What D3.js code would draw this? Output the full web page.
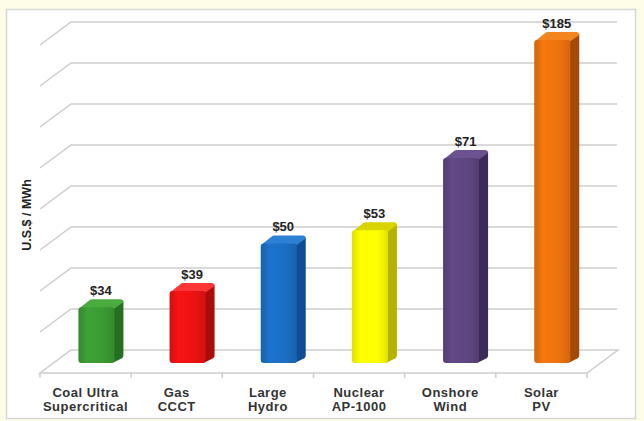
<!DOCTYPE html>
<html>
<head>
<meta charset="utf-8">
<script src="https://cdn.jsdelivr.net/npm/d3@7"></script>
<style>
  body { margin: 0; background: #fefee8; }
  text { font-family: "Liberation Sans", Arial, sans-serif; font-weight: bold; }
</style>
</head>
<body>
<svg id="chart" width="644" height="421"></svg>
<script>
// categories, two lines each
var categories = ['Coal Ultra|Supercritical', 'Gas|CCCT', 'Large|Hydro', 'Nuclear|AP-1000', 'Onshore|Wind', 'Solar|PV'];
// value labels printed over the bars
var costLabels = ['$34', '$39', '$50', '$53', '$71', '$185'];
// bar heights as drawn (axis units, 0-200, gridline every 25)
var barHeights = [34, 44, 73, 81, 125, 197];
var gridTicks = [0, 25, 50, 75, 100, 125, 150, 175, 200];
var frontColors = ['#3a9a33', '#ec1212', '#1b6ec2', '#ffff00', '#5d4580', '#ec720c'];
var sideColors  = ['#256f20', '#aa0c0c', '#0f4e92', '#b5b200', '#3c2b57', '#a44a06'];
var topColors   = ['#49ab40', '#ff3636', '#2c80d6', '#d8d400', '#6c5290', '#f2851e'];

var svg = d3.select('#chart');

// white panel
svg.append('rect')
  .attr('x', 6.5).attr('y', 9.5).attr('width', 629).attr('height', 409)
  .attr('fill', '#fff').attr('stroke', '#d6d6d6').attr('stroke-width', 1.5);

var depthX = 31, depthY = -23;   // floor depth (front -> back)
var floorFront = 373;

var x = d3.scaleBand().domain(categories).range([40, 587]).padding(0);
var y = d3.scaleLinear().domain([0, 200]).range([350, 22]);   // on back wall

var grid = svg.append('g').attr('stroke', '#cdcdcd').attr('stroke-width', 1.5).attr('fill', 'none');

// gridlines: back wall + left wall diagonal
gridTicks.forEach(function(t) {
  var yb = y(t);
  if (t === 0) return;
  grid.append('path').attr('d', 'M' + 40 + ',' + (yb - depthY) + 'L' + (40 + depthX) + ',' + yb + 'L' + 617 + ',' + yb);
});

// floor
var x0 = x.range()[0], x1 = x.range()[1];
grid.append('path').attr('d',
  'M' + x0 + ',' + floorFront + 'L' + x1 + ',' + floorFront +
  'L' + (x1 + depthX) + ',' + (floorFront + depthY) +
  'L' + (x0 + depthX) + ',' + (floorFront + depthY) + 'Z');

// category ticks
var bounds = categories.map(function(c) { return x(c); }).concat([x1]);
bounds.forEach(function(b) {
  grid.append('line').attr('x1', b).attr('x2', b).attr('y1', floorFront).attr('y2', floorFront + 5);
});

// gradients for front faces
var defs = svg.append('defs');
frontColors.forEach(function(c, i) {
  var g = defs.append('linearGradient').attr('id', 'fg' + i).attr('x1', 0).attr('x2', 1).attr('y1', 0).attr('y2', 0);
  g.append('stop').attr('offset', '0%').attr('stop-color', d3.color(c).darker(0.35));
  g.append('stop').attr('offset', '25%').attr('stop-color', d3.color(c).brighter(0.15));
  g.append('stop').attr('offset', '70%').attr('stop-color', c);
  g.append('stop').attr('offset', '100%').attr('stop-color', d3.color(c).darker(0.3));
});

// bars sit at 0.43 of the floor depth
var d = 0.43;
var bw = 36, sx = 9, sy = -7, r = 3;

var bars = svg.append('g');
categories.forEach(function(c, i) {
  var cx = x(c) + x.bandwidth() / 2 + depthX * d - sx / 2 + 2;
  var base = floorFront + depthY * d;
  var top = y(barHeights[i]) - depthY * (1 - d);
  var left = cx - bw / 2, right = cx + bw / 2;

  // side face
  bars.append('path')
    .attr('d', 'M' + (right - 1) + ',' + (top + 1) + 'L' + (right + sx) + ',' + (top + sy + 1) +
      'L' + (right + sx) + ',' + (base + sy - 1) + 'Q' + (right + sx) + ',' + (base + sy + 2) + ' ' + (right + sx - 3) + ',' + (base + sy + 3) +
      'L' + (right - 2) + ',' + base + 'Z')
    .attr('fill', sideColors[i]);
  // top face
  bars.append('path')
    .attr('d', 'M' + (left + 1) + ',' + (top + 1) + 'L' + (left + sx + 2) + ',' + (top + sy) +
      'Q' + (left + sx + 3) + ',' + (top + sy - 1) + ' ' + (left + sx + 5) + ',' + (top + sy - 1) +
      'L' + (right + sx - 3) + ',' + (top + sy - 1) + 'Q' + (right + sx) + ',' + (top + sy - 1) + ' ' + (right + sx) + ',' + (top + sy + 2) +
      'L' + (right - 1) + ',' + (top + 2) + 'Z')
    .attr('fill', topColors[i]);
  // front face
  bars.append('rect')
    .attr('x', left).attr('y', top).attr('width', bw).attr('height', base - top)
    .attr('rx', r).attr('ry', r)
    .attr('fill', 'url(#fg' + i + ')');

  // value label
  svg.append('text')
    .attr('x', cx + sx / 2).attr('y', top + sy - 5)
    .attr('text-anchor', 'middle').attr('font-size', 13).attr('fill', '#222')
    .text(costLabels[i]);
});

// category labels
var labels = svg.append('g').attr('font-size', 13).attr('fill', '#333')
  .attr('text-anchor', 'middle').attr('letter-spacing', 0.5);
categories.forEach(function(c) {
  var parts = c.split('|');
  var cx = x(c) + x.bandwidth() / 2;
  var t = labels.append('text').attr('x', cx).attr('y', 397);
  t.append('tspan').attr('x', cx).text(parts[0]);
  t.append('tspan').attr('x', cx).attr('dy', 14).text(parts[1]);
});

// y axis title
svg.append('text')
  .attr('transform', 'translate(31,215) rotate(-90)')
  .attr('text-anchor', 'middle').attr('font-size', 12.5).attr('fill', '#222')
  .text('U.S.$ / MWh');
</script>
</body>
</html>
